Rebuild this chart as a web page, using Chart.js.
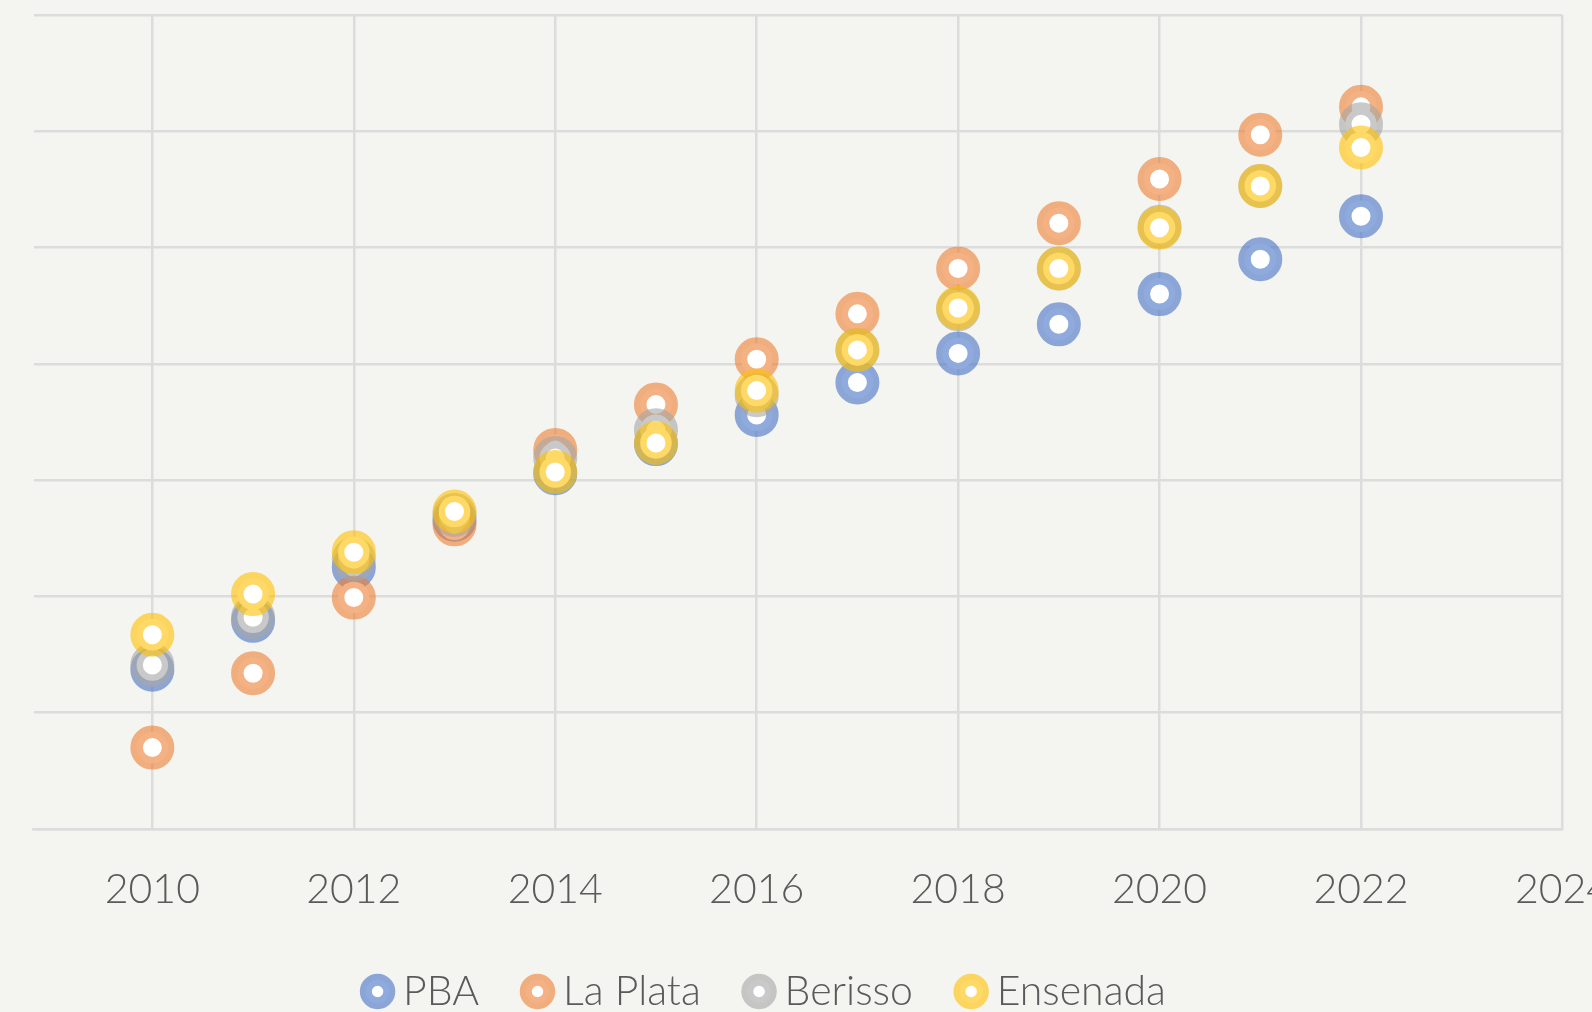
<!DOCTYPE html>
<html>
<head>
<meta charset="utf-8">
<script src="https://cdn.jsdelivr.net/npm/chart.js@4"></script>
<style>
  html, body { margin: 0; padding: 0; background: #f4f4f0; overflow: hidden; }
  #wrap { width: 1592px; height: 1012px; overflow: hidden; position: relative; }
  canvas { display: block; }
</style>
</head>
<body>
<div id="wrap"><canvas id="chart" width="1646" height="1022"></canvas></div>
<script>
// years on the x axis
const years = [2010, 2011, 2012, 2013, 2014, 2015, 2016, 2017, 2018, 2019, 2020, 2021, 2022];
const xTicks = [2010, 2012, 2014, 2016, 2018, 2020, 2022, 2024];
const yTicks = [0, 1, 2, 3, 4, 5, 6, 7];

// series (gridline = 1 unit)
const pba      = [1.37, 1.79, 2.25, 2.66, 3.06, 3.31, 3.56, 3.84, 4.09, 4.34, 4.60, 4.90, 5.27];
const laPlata  = [0.70, 1.34, 1.99, 2.62, 3.26, 3.65, 4.04, 4.43, 4.82, 5.21, 5.59, 5.97, 6.21];
const berisso  = [1.41, 1.82, 2.32, 2.70, 3.19, 3.43, 3.73, 4.12, 4.47, 4.82, 5.18, 5.53, 6.06];
const ensenada = [1.67, 2.02, 2.38, 2.73, 3.07, 3.32, 3.77, 4.12, 4.48, 4.82, 5.17, 5.53, 5.86];

const seriesNames = ['PBA', 'La Plata', 'Berisso', 'Ensenada'];
const seriesColors = [
  'rgba(68,114,196,0.6)',
  'rgba(237,125,49,0.6)',
  'rgba(165,165,165,0.6)',
  'rgba(255,192,0,0.6)'
];

const gridColor = '#dcdcdc';
const textColor = '#5a5a5a';

Chart.defaults.font.family = 'Lato';
Chart.defaults.font.weight = 300;

function toPoints(values) {
  return values.map((v, i) => ({ x: years[i], y: v }));
}

const datasets = [pba, laPlata, berisso, ensenada].map((values, i) => ({
  label: seriesNames[i],
  data: toPoints(values),
  borderColor: seriesColors[i],
  backgroundColor: '#ffffff',
  pointRadius: 15.75,
  pointHoverRadius: 15.75,
  borderWidth: 12.5,
  order: 3 - i   // later series drawn on top, like Excel
}));

// legend sits a bit left of the plot centre in the original
const legendShift = {
  id: 'legendShift',
  afterLayout(chart) {
    chart.legend.left -= 35;
    chart.legend.right -= 35;
  }
};

new Chart(document.getElementById('chart'), {
  type: 'scatter',
  data: { datasets: datasets },
  plugins: [legendShift],
  options: {
    responsive: false,
    animation: false,
    layout: { autoPadding: false, padding: { left: 33.5, right: 71, top: 15, bottom: 0 } },
    plugins: {
      tooltip: { enabled: false },
      legend: {
        position: 'bottom',
        labels: {
          usePointStyle: true,
          pointStyle: 'circle',
          boxWidth: 10,
          boxHeight: 16.6,
          padding: 53.3,
          color: textColor,
          font: { size: 41, weight: 300 },
          sort: (a, b) => a.datasetIndex - b.datasetIndex,
          generateLabels: (chart) => {
            const items = Chart.defaults.plugins.legend.labels.generateLabels(chart);
            items.forEach(it => {
              it.lineWidth = 12;
              it.fillStyle = '#ffffff';
            });
            return items;
          }
        }
      }
    },
    scales: {
      x: {
        type: 'linear',
        min: 2008.82,
        max: 2024,
        afterBuildTicks: (scale) => { scale.ticks = xTicks.map(v => ({ value: v })); },
        afterFit: (scale) => { scale.height = 88.7; },
        grid: { color: gridColor, lineWidth: 2.5, drawTicks: false },
        border: { color: gridColor, width: 2.5 },
        ticks: {
          color: textColor,
          font: { size: 41, weight: 300 },
          padding: 36,
          maxRotation: 0,
          callback: (v) => String(v)
        }
      },
      y: {
        min: 0,
        max: 7,
        afterBuildTicks: (scale) => { scale.ticks = yTicks.map(v => ({ value: v })); },
        grid: { color: gridColor, lineWidth: 2.5, drawTicks: false },
        border: { display: false },
        ticks: { display: false }
      }
    }
  }
});
</script>
</body>
</html>
